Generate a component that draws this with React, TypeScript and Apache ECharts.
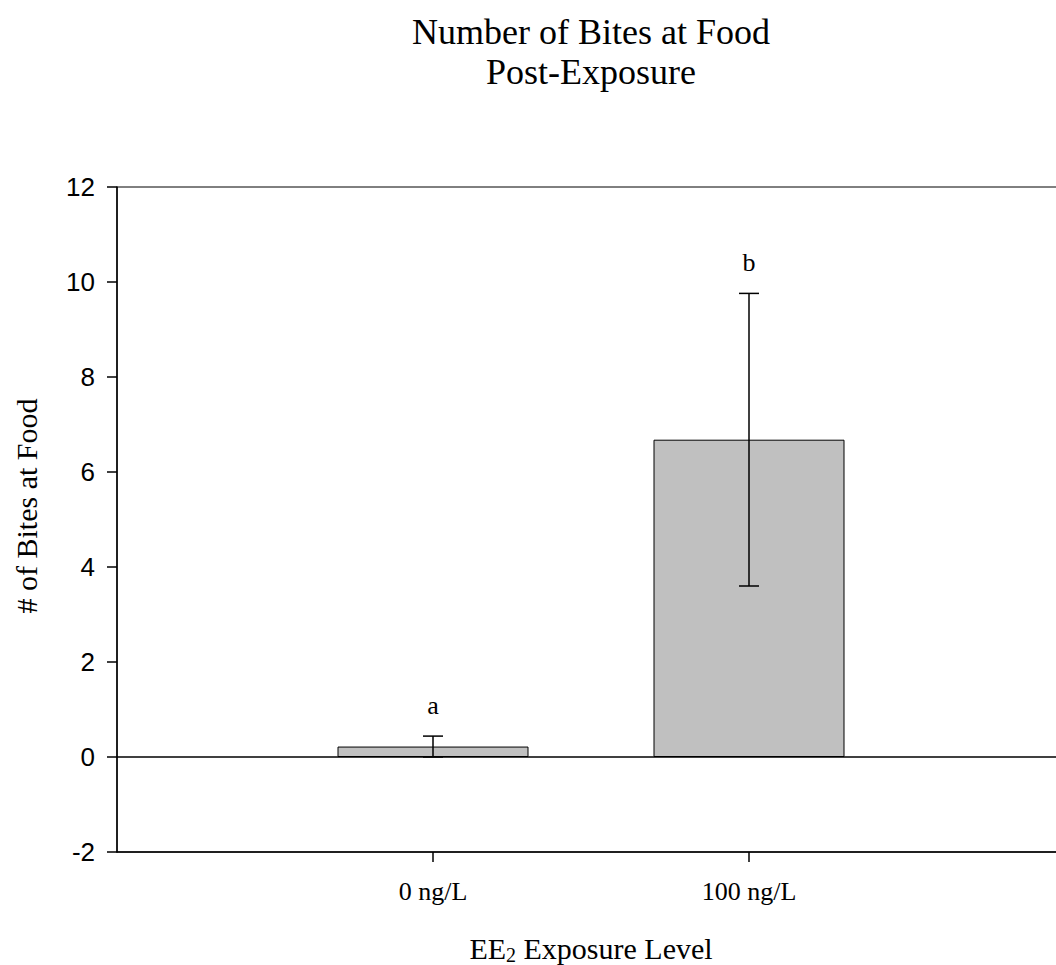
import React, { useEffect, useRef } from "react";
import * as echarts from "echarts";

const categories = ["0 ng/L", "100 ng/L"];
const means = [0.22, 6.68];
const errors = [0.22, 3.08];
const letters = ["a", "b"];
const yTicks = { min: -2, max: 12, interval: 2 };

const SERIF = "'Liberation Serif', 'Times New Roman', serif";
const SANS = "'Liberation Sans', Arial, sans-serif";

export default function App() {
  const ref = useRef<HTMLDivElement>(null);
  useEffect(() => {
    document.body.style.margin = "0";
    document.body.style.overflow = "hidden";
    document.documentElement.style.overflow = "hidden";
    const chart = echarts.init(ref.current!, null, { renderer: "svg" });
    const positions = categories.map((_, i) => i + 1);
    const barData = means.map((m, i) => [positions[i], m]);
    const errData = means.map((m, i) => [positions[i], Math.max(0, m - errors[i]), m + errors[i], letters[i]]);
    chart.setOption({
      animation: false,
      grid: {
        left: 117,
        top: 187,
        width: 948,
        height: 665,
        show: true,
        borderColor: "#000",
        borderWidth: 1,
        containLabel: false,
      },
      graphic: [
        {
          type: "text",
          x: 591,
          y: 12,
          style: {
            text: "Number of Bites at Food\nPost-Exposure",
            font: `36px ${SERIF}`,
            fill: "#000",
            align: "center",
            verticalAlign: "top",
            lineHeight: 40,
          },
        },
        {
          type: "text",
          x: 26,
          y: 506,
          rotation: Math.PI / 2,
          style: {
            text: "# of Bites at Food",
            font: `30px ${SERIF}`,
            fill: "#000",
            align: "center",
            verticalAlign: "middle",
          },
        },
        {
          type: "text",
          x: 591,
          y: 948,
          style: {
            text: "{n|EE}{s|2}{n| Exposure Level}",
            align: "center",
            verticalAlign: "middle",
            fill: "#000",
            rich: {
              n: { fontFamily: SERIF, fontSize: 30, lineHeight: 34, fill: "#000" },
              s: { fontFamily: SERIF, fontSize: 20, lineHeight: 14, verticalAlign: "bottom", fill: "#000" },
            },
          },
        },
      ],
      xAxis: {
        type: "value",
        min: 0,
        max: 3,
        interval: 1,
        splitLine: { show: false },
        axisLine: { show: true, onZero: false, lineStyle: { color: "#000", width: 1.5 } },
        axisTick: {
          show: true,
          length: 10,
          customValues: positions,
          lineStyle: { color: "#000", width: 1.5 },
        },
        axisLabel: {
          customValues: positions,
          formatter: (v: number) => categories[Math.round(v) - 1] ?? "",
          fontFamily: SERIF,
          fontSize: 26,
          color: "#000",
          margin: 26,
        },
      },
      yAxis: {
        type: "value",
        min: yTicks.min,
        max: yTicks.max,
        interval: yTicks.interval,
        splitLine: { show: false },
        axisLine: { show: true, lineStyle: { color: "#000", width: 1.5 } },
        axisTick: { show: true, length: 10, lineStyle: { color: "#000", width: 1.5 } },
        axisLabel: {
          fontFamily: SANS,
          fontSize: 26,
          color: "#000",
          margin: 22,
        },
      },
      series: [
        {
          type: "bar",
          data: barData,
          barWidth: 191,
          z: 2,
          itemStyle: { color: "#c0c0c0", borderColor: "#000", borderWidth: 1 },
          markLine: {
            silent: true,
            symbol: "none",
            label: { show: false },
            lineStyle: { color: "#000", width: 1.5, type: "solid" },
            data: [{ yAxis: 0 }],
          },
        },
        {
          type: "custom",
          data: errData,
          clip: false,
          z: 10,
          renderItem: (params: any, api: any) => {
            const x = api.value(0);
            const lo = api.coord([x, api.value(1)]);
            const hi = api.coord([x, api.value(2)]);
            const half = 10;
            const style = { stroke: "#000", lineWidth: 1.5 };
            return {
              type: "group",
              children: [
                { type: "line", shape: { x1: hi[0], y1: hi[1], x2: lo[0], y2: lo[1] }, style },
                { type: "line", shape: { x1: hi[0] - half, y1: hi[1], x2: hi[0] + half, y2: hi[1] }, style },
                { type: "line", shape: { x1: lo[0] - half, y1: lo[1], x2: lo[0] + half, y2: lo[1] }, style },
                {
                  type: "text",
                  x: hi[0],
                  y: hi[1] - 31,
                  style: {
                    text: String(api.value(3)),
                    font: `26px ${SERIF}`,
                    fill: "#000",
                    align: "center",
                    verticalAlign: "middle",
                  },
                },
              ],
            };
          },
        },
      ],
    });
    return () => chart.dispose();
  }, []);
  return <div ref={ref} style={{ width: 1100, height: 965 }} />;
}
